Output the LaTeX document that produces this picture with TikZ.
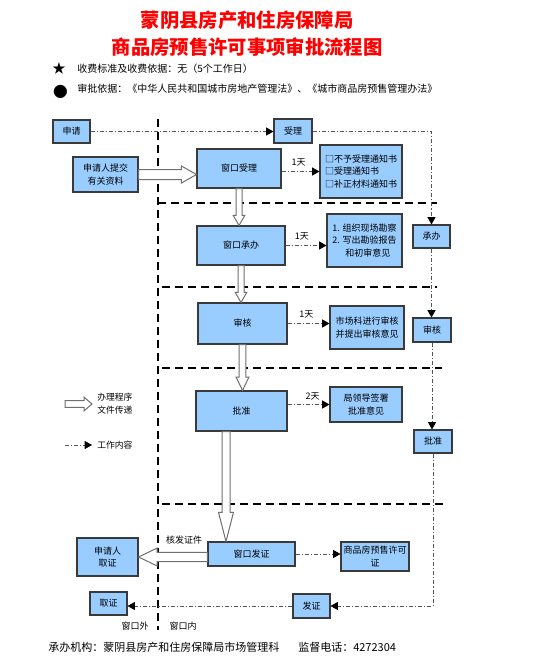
\documentclass[tikz,border=0pt]{standalone}
\usepackage{fontspec}
\setmainfont{Noto Sans CJK SC}
\usetikzlibrary{arrows.meta,calc}
\definecolor{boxfill}{HTML}{99CCFF}
\definecolor{boxline}{HTML}{3A3A3A}
\definecolor{flowcol}{HTML}{555555}
\definecolor{holcol}{HTML}{707070}
\begin{document}
\begin{tikzpicture}[x=0.75pt,y=-0.75pt,
  box/.style={draw=boxline, fill=boxfill, line width=0.8pt, align=center, inner sep=0pt,
    font=\fontsize{6.75}{9.5}\selectfont},
  sz/.style 2 args={minimum width=#1*0.75pt, minimum height=#2*0.75pt},
  sepline/.style={line width=1.5pt, dash pattern=on 6pt off 3.75pt},
  flow/.style={draw=flowcol, line width=0.6pt, dash pattern=on 3pt off 1.5pt on 0.8pt off 1.5pt,
    -{Triangle[length=5.5pt,width=6pt,fill=black,color=black]}},
  hol/.style={draw=holcol, fill=white, line width=0.75pt},
  lbl/.style={inner sep=0pt, font=\fontsize{6.75}{9}\selectfont},
  hdr/.style={inner sep=0pt, anchor=west, font=\fontsize{7.5}{9}\selectfont},
  ttl/.style={inner sep=0pt, text=red, font=\bfseries\fontsize{14.5}{16}\selectfont}
]
\fill[white] (0,0) rectangle (533,671);
\useasboundingbox (0,0) rectangle (533,671);

% title
\node[ttl] (t1) at (247,20) {蒙阴县房产和住房保障局};
\node[ttl] (t2) at (247,47) {商品房预售许可事项审批流程图};
\node[inner sep=0pt, font=\fontsize{10}{10}\selectfont] (star) at (59,68.5) {★};
\node[hdr] (h1) at (77,68.5) {收费标准及收费依据：无（5个工作日）};
\node[inner sep=0pt, font=\fontsize{11}{11}\selectfont] (dot) at (60.5,91.5) {●};
\node[hdr] (h2) at (77,89) {审批依据：《中华人民共和国城市房地产管理法》、《城市商品房预售管理办法》};

% separators
\draw[sepline] (158,119) -- (158,630);
\draw[sepline] (158,203) -- (437,203);
\draw[sepline] (162,287) -- (437,287);
\draw[sepline] (162,368) -- (442,368);
\draw[sepline] (162,504) -- (443,504);

% boxes
\node[box, sz={37}{23}] (sq) at (71.5,131.5) {申请};
\node[box, sz={38}{24}] (sl) at (293,131) {受理};
\node[box, sz={65}{35}] (tj) at (105.5,174.5) {申请人提交\\有关资料};
\node[box, sz={84}{39}] (ck1) at (239,168.5) {窗口受理};
\node[box, sz={88}{39}] (ck2) at (241,245.5) {窗口承办};
\node[box, sz={82}{53}, align=left] (tz) at (361,171.5) {□不予受理通知书\\□受理通知书\\□补正材料通知书};
\node[box, sz={75}{53}, align=left] (kc) at (364.5,240.5) {1. 组织现场勘察\\2. 写出勘验报告\\\hspace*{1.45em}和初审意见};
\node[box, sz={37}{23}] (cb) at (431.5,236.5) {承办};
\node[box, sz={89}{41}] (sh) at (242.5,323.5) {审核};
\node[box, sz={74}{43}] (sc) at (367,327.5) {市场科进行审核\\并提出审核意见};
\node[box, sz={38}{24}] (sh2) at (432,330) {审核};
\node[box, sz={91}{40}] (pz) at (241.5,411) {批准};
\node[box, sz={72}{35}] (ld) at (366,404.5) {局领导签署\\批准意见};
\node[box, sz={38}{23}] (pz2) at (433,441.5) {批准};
\node[box, sz={87}{24}] (fz) at (251.5,554) {窗口发证};
\node[box, sz={68}{29}] (xk) at (375,556.5) {商品房预售许可\\证};
\node[box, sz={61}{38}] (qz1) at (107.5,557) {申请人\\取证};
\node[box, sz={37}{23}] (qz2) at (108.5,603.5) {取证};
\node[box, sz={37}{24}] (fz2) at (311.5,606) {发证};

% work-content connectors
\draw[flow] (sq.east) -- (sq.east -| sl.west);
\draw[flow] (ck1.east |- tz.west) -- node[lbl, above=4pt, pos=0.45] (d1) {1天} (tz.west);
\draw[flow] (ck2.east) -- node[lbl, above=4pt, pos=0.4] (d2) {1天} (ck2.east -| kc.west);
\draw[flow] (sh.east) -- node[lbl, above=4pt, pos=0.45] (d3) {1天} (sh.east -| sc.west);
\draw[flow] (pz.east |- ld.west) -- node[lbl, above=3pt, pos=0.6] (d4) {2天} (ld.west);
\draw[flow] (fz.east) -- (fz.east -| xk.west);
\draw[flow] (sl.east) -- (sl.east -| cb.north) -- (cb.north);
\draw[flow] (cb.south) -- (cb.south |- sh2.north);
\draw[flow] (sh2.south) -- (sh2.south |- pz2.north);
\draw[flow] (pz2.south) -- (pz2.south |- fz2.east) -- (fz2.east);
\draw[flow] (fz2.west) -- (fz2.west -| qz2.east);

% hollow (procedure) arrows
\draw[hol] let \p1=(tj.east), \p2=(ck1.west) in
  (\x1,\y1+3.75pt) -- (\x2-11.25pt,\y1+3.75pt) -- (\x2-11.25pt,\y1+6.4pt) -- (\x2,\y1)
  -- (\x2-11.25pt,\y1-6.4pt) -- (\x2-11.25pt,\y1-3.75pt) -- (\x1,\y1-3.75pt) -- cycle;
\draw[hol] let \p1=(ck1.south), \p2=(ck2.north) in
  (\x1-2.25pt,\y1) -- (\x1-2.25pt,\y2+7.5pt) -- (\x1-4.3pt,\y2+7.5pt) -- (\x1,\y2)
  -- (\x1+4.3pt,\y2+7.5pt) -- (\x1+2.25pt,\y2+7.5pt) -- (\x1+2.25pt,\y1) -- cycle;
\draw[hol] let \p1=(ck2.south), \p2=(sh.north) in
  (\x1-2.25pt,\y1) -- (\x1-2.25pt,\y2+7.5pt) -- (\x1-4.3pt,\y2+7.5pt) -- (\x1,\y2)
  -- (\x1+4.3pt,\y2+7.5pt) -- (\x1+2.25pt,\y2+7.5pt) -- (\x1+2.25pt,\y1) -- cycle;
\draw[hol] let \p1=(sh.south), \p2=(pz.north) in
  (\x1-2.6pt,\y1) -- (\x1-2.6pt,\y2+10pt) -- (\x1-4.8pt,\y2+10pt) -- (\x1,\y2)
  -- (\x1+4.8pt,\y2+10pt) -- (\x1+2.6pt,\y2+10pt) -- (\x1+2.6pt,\y1) -- cycle;
\draw[hol] let \p1=(pz.south), \p2=(fz.north), \p3=(226,0) in
  (\x3-3pt,\y1) -- (\x3-3pt,\y2+21.75pt) -- (\x3-5.6pt,\y2+21.75pt) -- (\x3,\y2)
  -- (\x3+5.6pt,\y2+21.75pt) -- (\x3+3pt,\y2+21.75pt) -- (\x3+3pt,\y1) -- cycle;
\draw[hol] let \p1=(fz.west), \p2=(qz1.east) in
  (\x1,\y2+3.4pt) -- (\x2+14pt,\y2+3.4pt) -- (\x2+14pt,\y2+6.75pt) -- (\x2,\y2)
  -- (\x2+14pt,\y2-6.75pt) -- (\x2+14pt,\y2-3.4pt) -- (\x1,\y2-3.4pt) -- cycle;

\node[lbl] (hf) at (184,540) {核发证件};
\node[lbl] (wo) at (135,626) {窗口外};
\node[lbl] (wi) at (183,626) {窗口内};

% legend
\coordinate (legA) at (65,404);
\coordinate (legB) at (92,404);
\draw[hol] let \p1=(legA), \p2=(legB) in
  (\x1,\y1+2.6pt) -- (\x2-6pt,\y1+2.6pt) -- (\x2-6pt,\y1+5.2pt) -- (\x2,\y1)
  -- (\x2-6pt,\y1-5.2pt) -- (\x2-6pt,\y1-2.6pt) -- (\x1,\y1-2.6pt) -- cycle;
\node[lbl, anchor=west, align=left, font=\fontsize{6.6}{9.75}\selectfont] (leg1) at (97,403.5) {办理程序\\文件传递};
\coordinate (legC) at (65,445);
\coordinate (legD) at (92,445);
\draw[flow] (legC) -- (legD);
\node[lbl, anchor=west, font=\fontsize{6.6}{9}\selectfont] (leg2) at (97,445) {工作内容};

% footer
\node[hdr, font=\fontsize{8.25}{10}\selectfont] (f1) at (48,647) {承办机构：蒙阴县房产和住房保障局市场管理科};
\node[hdr, font=\fontsize{8.25}{10}\selectfont] (f2) at (298,647) {监督电话：4272304};
\end{tikzpicture}
\end{document}
